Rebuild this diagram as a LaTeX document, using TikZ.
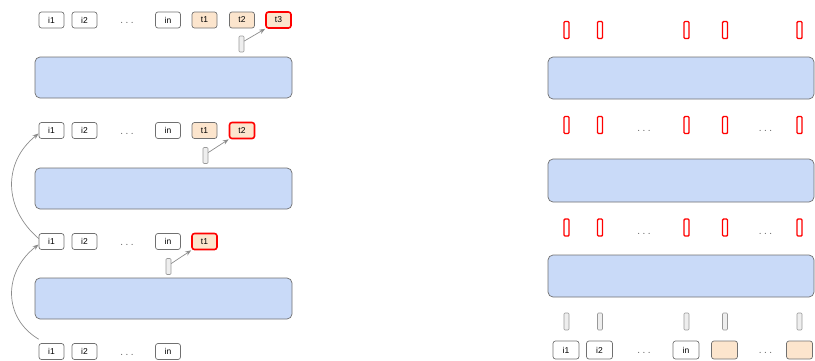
\documentclass[tikz,border=0pt]{standalone}
\usepackage{fontspec}
\setmainfont{Liberation Sans}
\usetikzlibrary{positioning,arrows.meta}

\definecolor{modelblue}{HTML}{C9DAF8}
\definecolor{gentan}{HTML}{FCE5CD}
\definecolor{edgegrey}{HTML}{707070}
\definecolor{pillgrey}{HTML}{EEEEEE}

\tikzset{
  token/.style={draw=edgegrey, rounded corners=2.5pt, line width=0.7pt,
                minimum width=25pt, minimum height=16pt, inner sep=0pt,
                font=\fontsize{8.5}{9}\selectfont},
  gentoken/.style={token, fill=gentan},
  newtoken/.style={gentoken, draw=red, line width=1.6pt},
  model/.style={draw=edgegrey, fill=modelblue, rounded corners=5pt,
                line width=0.7pt, minimum height=41pt, inner sep=0pt},
  hidden/.style={draw=gray!80, fill=pillgrey, rounded corners=1pt,
                 line width=0.6pt, minimum width=5pt, minimum height=16pt,
                 inner sep=0pt},
  redhidden/.style={hidden, draw=red, fill=white, line width=1.4pt,
                    minimum height=17pt},
  gap/.style={font=\fontsize{13}{13}\selectfont, text=black!65, inner sep=0pt},
  link/.style={-{Stealth[length=6pt,width=4.5pt]}, draw=gray!90, line width=0.7pt},
}

\begin{document}
\begin{tikzpicture}[x=1pt, y=-1pt, line cap=round, line join=round]

  \useasboundingbox (0,0) rectangle (815,360);

  % ── left: one step at a time ─────────────────────────────────────────────

  \foreach \r/\y in {1/20, 2/130.5, 3/241.5, 4/351.5} {
    \node[token] (i1\r) at (51.5,\y) {i1};
    \node[token] (i2\r) at (84.5,\y) {i2};
    \node[gap]   (dots\r) at (127,\y+3) {$\ldots$};
    \node[token] (in\r) at (168,\y) {in};
  }

  % generated tokens
  \node[gentoken] (ta1) at (204.5,20) {t1};
  \node[gentoken] (tb1) at (242,20) {t2};
  \node[newtoken] (tc1) at (278.5,20) {t3};

  \node[gentoken] (ta2) at (204.5,130.5) {t1};
  \node[newtoken] (tb2) at (242,130.5) {t2};

  \node[newtoken] (ta3) at (204.5,241.5) {t1};

  % model blocks
  \node[model, minimum width=257pt] (mod1) at (163.5,77.5) {};
  \node[model, minimum width=257pt] (mod2) at (163.5,188.5) {};
  \node[model, minimum width=257pt] (mod3) at (163.5,298.5) {};

  % hidden states and outputs
  \node[hidden] (h1) at (241.5,44) {};
  \node[hidden] (h2) at (205.5,155.5) {};
  \node[hidden] (h3) at (168.5,266.5) {};

  \draw[link] ([yshift=3pt]h1.east) -- (tc1.south west);
  \draw[link] ([yshift=3pt]h2.east) -- (tb2.south west);
  \draw[link] ([yshift=3pt]h3.east) -- (ta3.south west);

  % feed back to the next step
  \draw[link] ([yshift=4pt]i14.north west) .. controls (3,318) and (3,272) .. ([yshift=-3pt]i13.west);
  \draw[link] ([yshift=3pt]i13.west) .. controls (3,208) and (3,162) .. ([yshift=-3pt]i12.west);

  % ── right: all positions at once ─────────────────────────────────────────

  \node[model, minimum width=266pt, minimum height=42pt] (pmod1) at (681,78) {};
  \node[model, minimum width=266pt, minimum height=43pt] (pmod2) at (681,180.5) {};
  \node[model, minimum width=266pt, minimum height=42pt] (pmod3) at (681,276) {};

  \foreach \c/\x in {1/566.5, 2/600, 3/686.5, 4/725, 5/799.5} {
    \node[redhidden] (ra\c) at (\x,30) {};
    \node[redhidden] (rb\c) at (\x,125) {};
    \node[redhidden] (rc\c) at (\x,227.5) {};
    \node[hidden, minimum height=17pt] (g\c) at (\x,321.5) {};
  }

  \node[gap] (pdb1) at (644,131) {$\ldots$};
  \node[gap] (pdb2) at (765.5,131) {$\ldots$};
  \node[gap] (pdc1) at (644,234) {$\ldots$};
  \node[gap] (pdc2) at (765.5,234) {$\ldots$};

  % input row
  \node[token, minimum width=26pt, minimum height=18pt] (pi1) at (566,350) {i1};
  \node[token, minimum width=26pt, minimum height=18pt] (pi2) at (599.5,350) {i2};
  \node[gap] (pdd1) at (644,353) {$\ldots$};
  \node[token, minimum width=26pt, minimum height=18pt] (pin) at (686,350) {in};
  \node[gentoken, minimum width=26pt, minimum height=18pt] (pt1) at (724.5,350) {};
  \node[gap] (pdd2) at (765.5,353) {$\ldots$};
  \node[gentoken, minimum width=26pt, minimum height=18pt] (pt2) at (799.5,350) {};

\end{tikzpicture}
\end{document}
